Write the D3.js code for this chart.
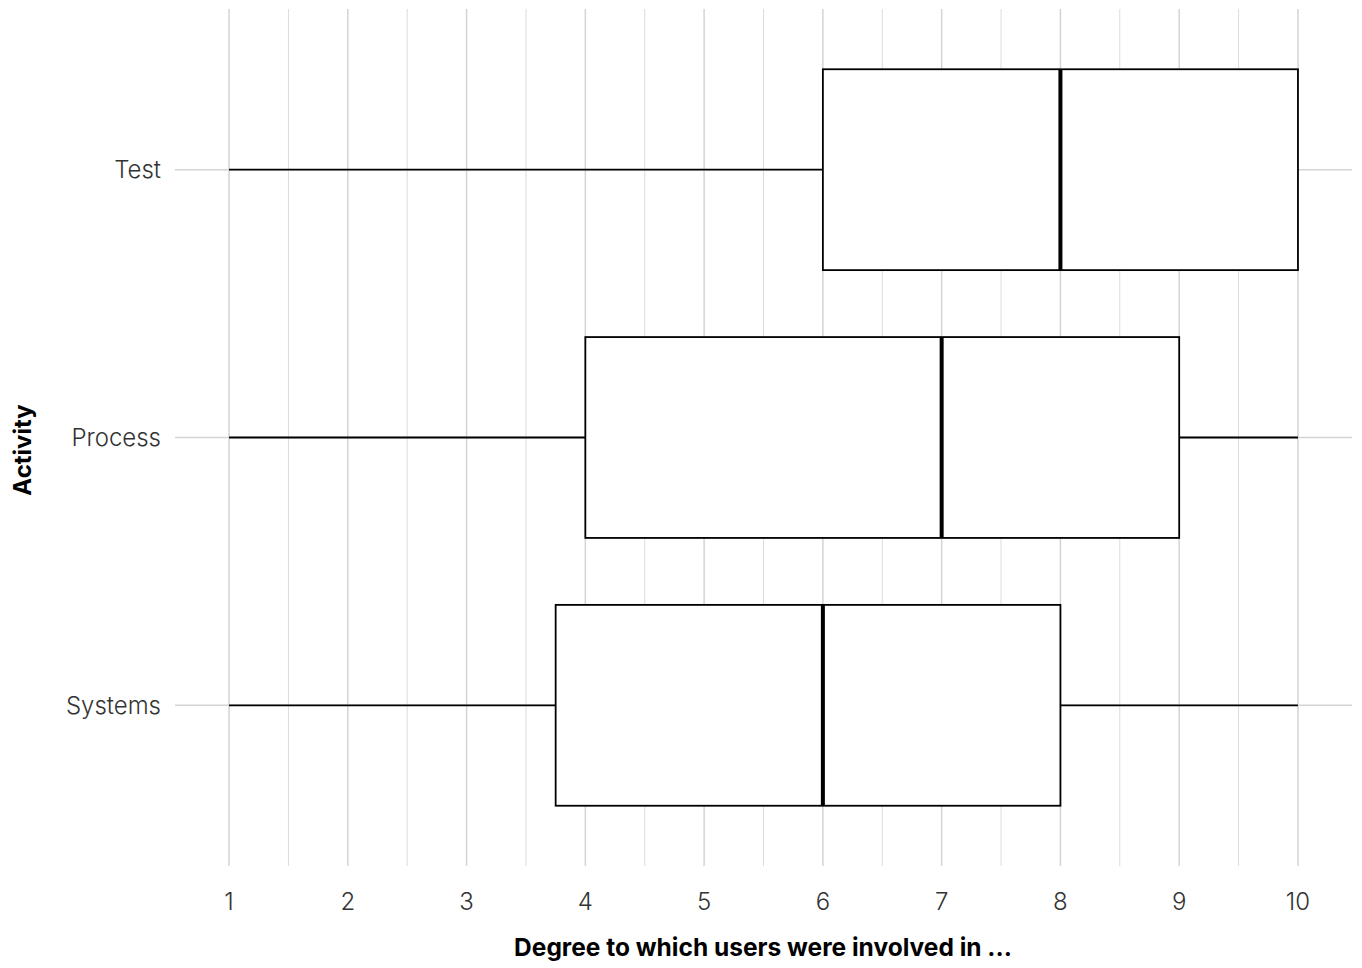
<!DOCTYPE html>
<html>
<head>
<meta charset="utf-8">
<script src="https://cdn.jsdelivr.net/npm/d3@7"></script>
<style>
  html, body { margin: 0; padding: 0; background: #fff; }
  svg { display: block; }
  text { font-family: "Inter", "Roboto", sans-serif; }
</style>
</head>
<body>
<svg id="chart" width="1362" height="968"></svg>
<script>
// Data
const categories = ["Test", "Process", "Systems"];
const whiskerLow  = [1, 1, 1];
const q1          = [6, 4, 3.75];
const median      = [8, 7, 6];
const q3          = [10, 9, 8];
const whiskerHigh = [10, 10, 10];
const xTicks = [1, 2, 3, 4, 5, 6, 7, 8, 9, 10];
const xTitle = "Degree to which users were involved in ...";
const yTitle = "Activity";

const svg = d3.select("#chart");
const panel = { left: 175, right: 1352, top: 9, bottom: 866 };

const x = d3.scaleLinear().domain([0.545, 10.455]).range([panel.left, panel.right]);
const y = d3.scalePoint().domain(categories).range([panel.top, panel.bottom]).padding(0.6);
const step = y.step();
const boxH = step * 0.75;

const grid = svg.append("g");
const minor = d3.range(1.5, 10, 1);
grid.selectAll(".minor").data(minor).join("line")
  .attr("x1", d => x(d)).attr("x2", d => x(d))
  .attr("y1", panel.top).attr("y2", panel.bottom)
  .attr("stroke", "#dcdcdc").attr("stroke-width", 1);
grid.selectAll(".major").data(xTicks).join("line")
  .attr("x1", d => x(d)).attr("x2", d => x(d))
  .attr("y1", panel.top).attr("y2", panel.bottom)
  .attr("stroke", "#d4d4d4").attr("stroke-width", 1.5);
grid.selectAll(".hg").data(categories).join("line")
  .attr("x1", panel.left).attr("x2", panel.right)
  .attr("y1", d => y(d)).attr("y2", d => y(d))
  .attr("stroke", "#d4d4d4").attr("stroke-width", 1.5);

const data = categories.map((c, i) => ({ c, lo: whiskerLow[i], q1: q1[i], med: median[i], q3: q3[i], hi: whiskerHigh[i] }));
const g = svg.append("g").selectAll("g").data(data).join("g");
g.append("line")
  .attr("x1", d => x(d.lo)).attr("x2", d => x(d.q1))
  .attr("y1", d => y(d.c)).attr("y2", d => y(d.c))
  .attr("stroke", "#000").attr("stroke-width", 1.8);
g.filter(d => d.hi > d.q3).append("line")
  .attr("x1", d => x(d.q3)).attr("x2", d => x(d.hi))
  .attr("y1", d => y(d.c)).attr("y2", d => y(d.c))
  .attr("stroke", "#000").attr("stroke-width", 1.8);
g.append("rect")
  .attr("x", d => x(d.q1)).attr("width", d => x(d.q3) - x(d.q1))
  .attr("y", d => y(d.c) - boxH / 2).attr("height", boxH)
  .attr("fill", "#fff").attr("stroke", "#000").attr("stroke-width", 1.8);
g.append("line")
  .attr("x1", d => x(d.med)).attr("x2", d => x(d.med))
  .attr("y1", d => y(d.c) - boxH / 2).attr("y2", d => y(d.c) + boxH / 2)
  .attr("stroke", "#000").attr("stroke-width", 4);

svg.append("g").selectAll("text").data(xTicks).join("text")
  .attr("x", d => x(d)).attr("y", 910)
  .attr("text-anchor", "middle")
  .attr("font-size", 24).attr("font-weight", 300).attr("fill", "#333")
  .text(d => d);
svg.append("g").selectAll("text").data(categories).join("text")
  .attr("x", 161).attr("y", d => y(d)).attr("dy", "0.35em")
  .attr("text-anchor", "end")
  .attr("font-size", 24).attr("font-weight", 300).attr("fill", "#333")
  .text(d => d);

svg.append("text")
  .attr("x", 763).attr("y", 956)
  .attr("text-anchor", "middle")
  .attr("font-size", 24.5).attr("font-weight", 700).attr("fill", "#000")
  .text(xTitle);
svg.append("text")
  .attr("transform", `translate(31, 450) rotate(-90)`)
  .attr("text-anchor", "middle")
  .attr("font-size", 24).attr("font-weight", 700).attr("fill", "#000")
  .text(yTitle);
</script>
</body>
</html>
